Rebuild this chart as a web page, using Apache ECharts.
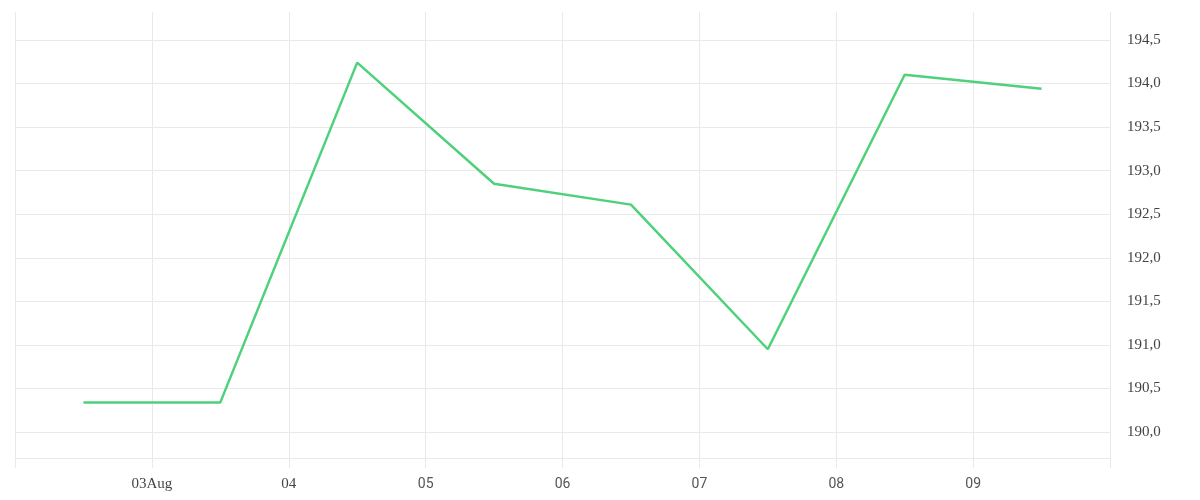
<!DOCTYPE html>
<html>
<head>
<meta charset="utf-8">
<script src="https://cdn.jsdelivr.net/npm/echarts@6/dist/echarts.min.js"></script>
<style>
  html, body { margin: 0; padding: 0; background: #fff; }
  #chart { width: 1200px; height: 500px; }
</style>
</head>
<body>
<div id="chart"></div>
<script>
// one point per day, taken at noon
var dates = ['2024-08-02T12:00:00Z', '2024-08-03T12:00:00Z', '2024-08-04T12:00:00Z', '2024-08-05T12:00:00Z',
  '2024-08-06T12:00:00Z', '2024-08-07T12:00:00Z', '2024-08-08T12:00:00Z', '2024-08-09T12:00:00Z'];
var prices = [190.34, 190.34, 194.24, 192.85, 192.61, 190.95, 194.10, 193.94];
var serifDays = [3, 4];

var DAY = 86400000;
var xMin = Date.UTC(2024, 7, 2);
var xMax = Date.UTC(2024, 7, 10);

var points = [];
for (var i = 0; i < dates.length; i++) {
  points.push([Date.parse(dates[i]), prices[i]]);
}

function dayLabel(v) {
  var d = new Date(v);
  var day = d.getUTCDate();
  var txt = (day < 10 ? '0' : '') + day;
  if (day === 3) txt += 'Aug';
  return serifDays.indexOf(day) >= 0 ? '{s|' + txt + '}' : '{n|' + txt + '}';
}

var grid = '#e9e9e9';
var chart = echarts.init(document.getElementById('chart'));
chart.setOption({
  animation: false,
  grid: { left: 15, right: 90, top: 12, bottom: 32 },
  xAxis: {
    type: 'value',
    min: xMin,
    max: xMax,
    interval: DAY,
    offset: -10, // axis line sits 10px above the bottom of the day lines
    axisLine: { show: true, onZero: false, lineStyle: { color: grid, width: 1 } },
    axisTick: { show: false },
    splitLine: { show: true, lineStyle: { color: grid } },
    axisLabel: {
      showMinLabel: false,
      showMaxLabel: false,
      margin: 19,
      formatter: dayLabel,
      rich: {
        s: { fontFamily: 'Liberation Serif', fontSize: 15, color: '#444' },
        n: { fontFamily: 'Roboto', fontSize: 14, color: '#555' }
      }
    }
  },
  yAxis: {
    type: 'value',
    position: 'right',
    min: 189.587,
    max: 194.821,
    splitNumber: 10,
    axisLine: { show: false },
    axisTick: { show: false },
    splitLine: { show: true, showMinLine: false, showMaxLine: false, lineStyle: { color: grid } },
    axisLabel: {
      showMinLabel: false,
      showMaxLabel: false,
      margin: 17,
      fontFamily: 'Liberation Serif',
      fontSize: 15,
      color: '#444',
      formatter: function (v) { return v.toFixed(1).replace('.', ','); }
    }
  },
  series: [{
    type: 'line',
    data: points,
    showSymbol: false,
    lineStyle: { color: '#4ed17a', width: 2.5 }
  }]
});
</script>
</body>
</html>
